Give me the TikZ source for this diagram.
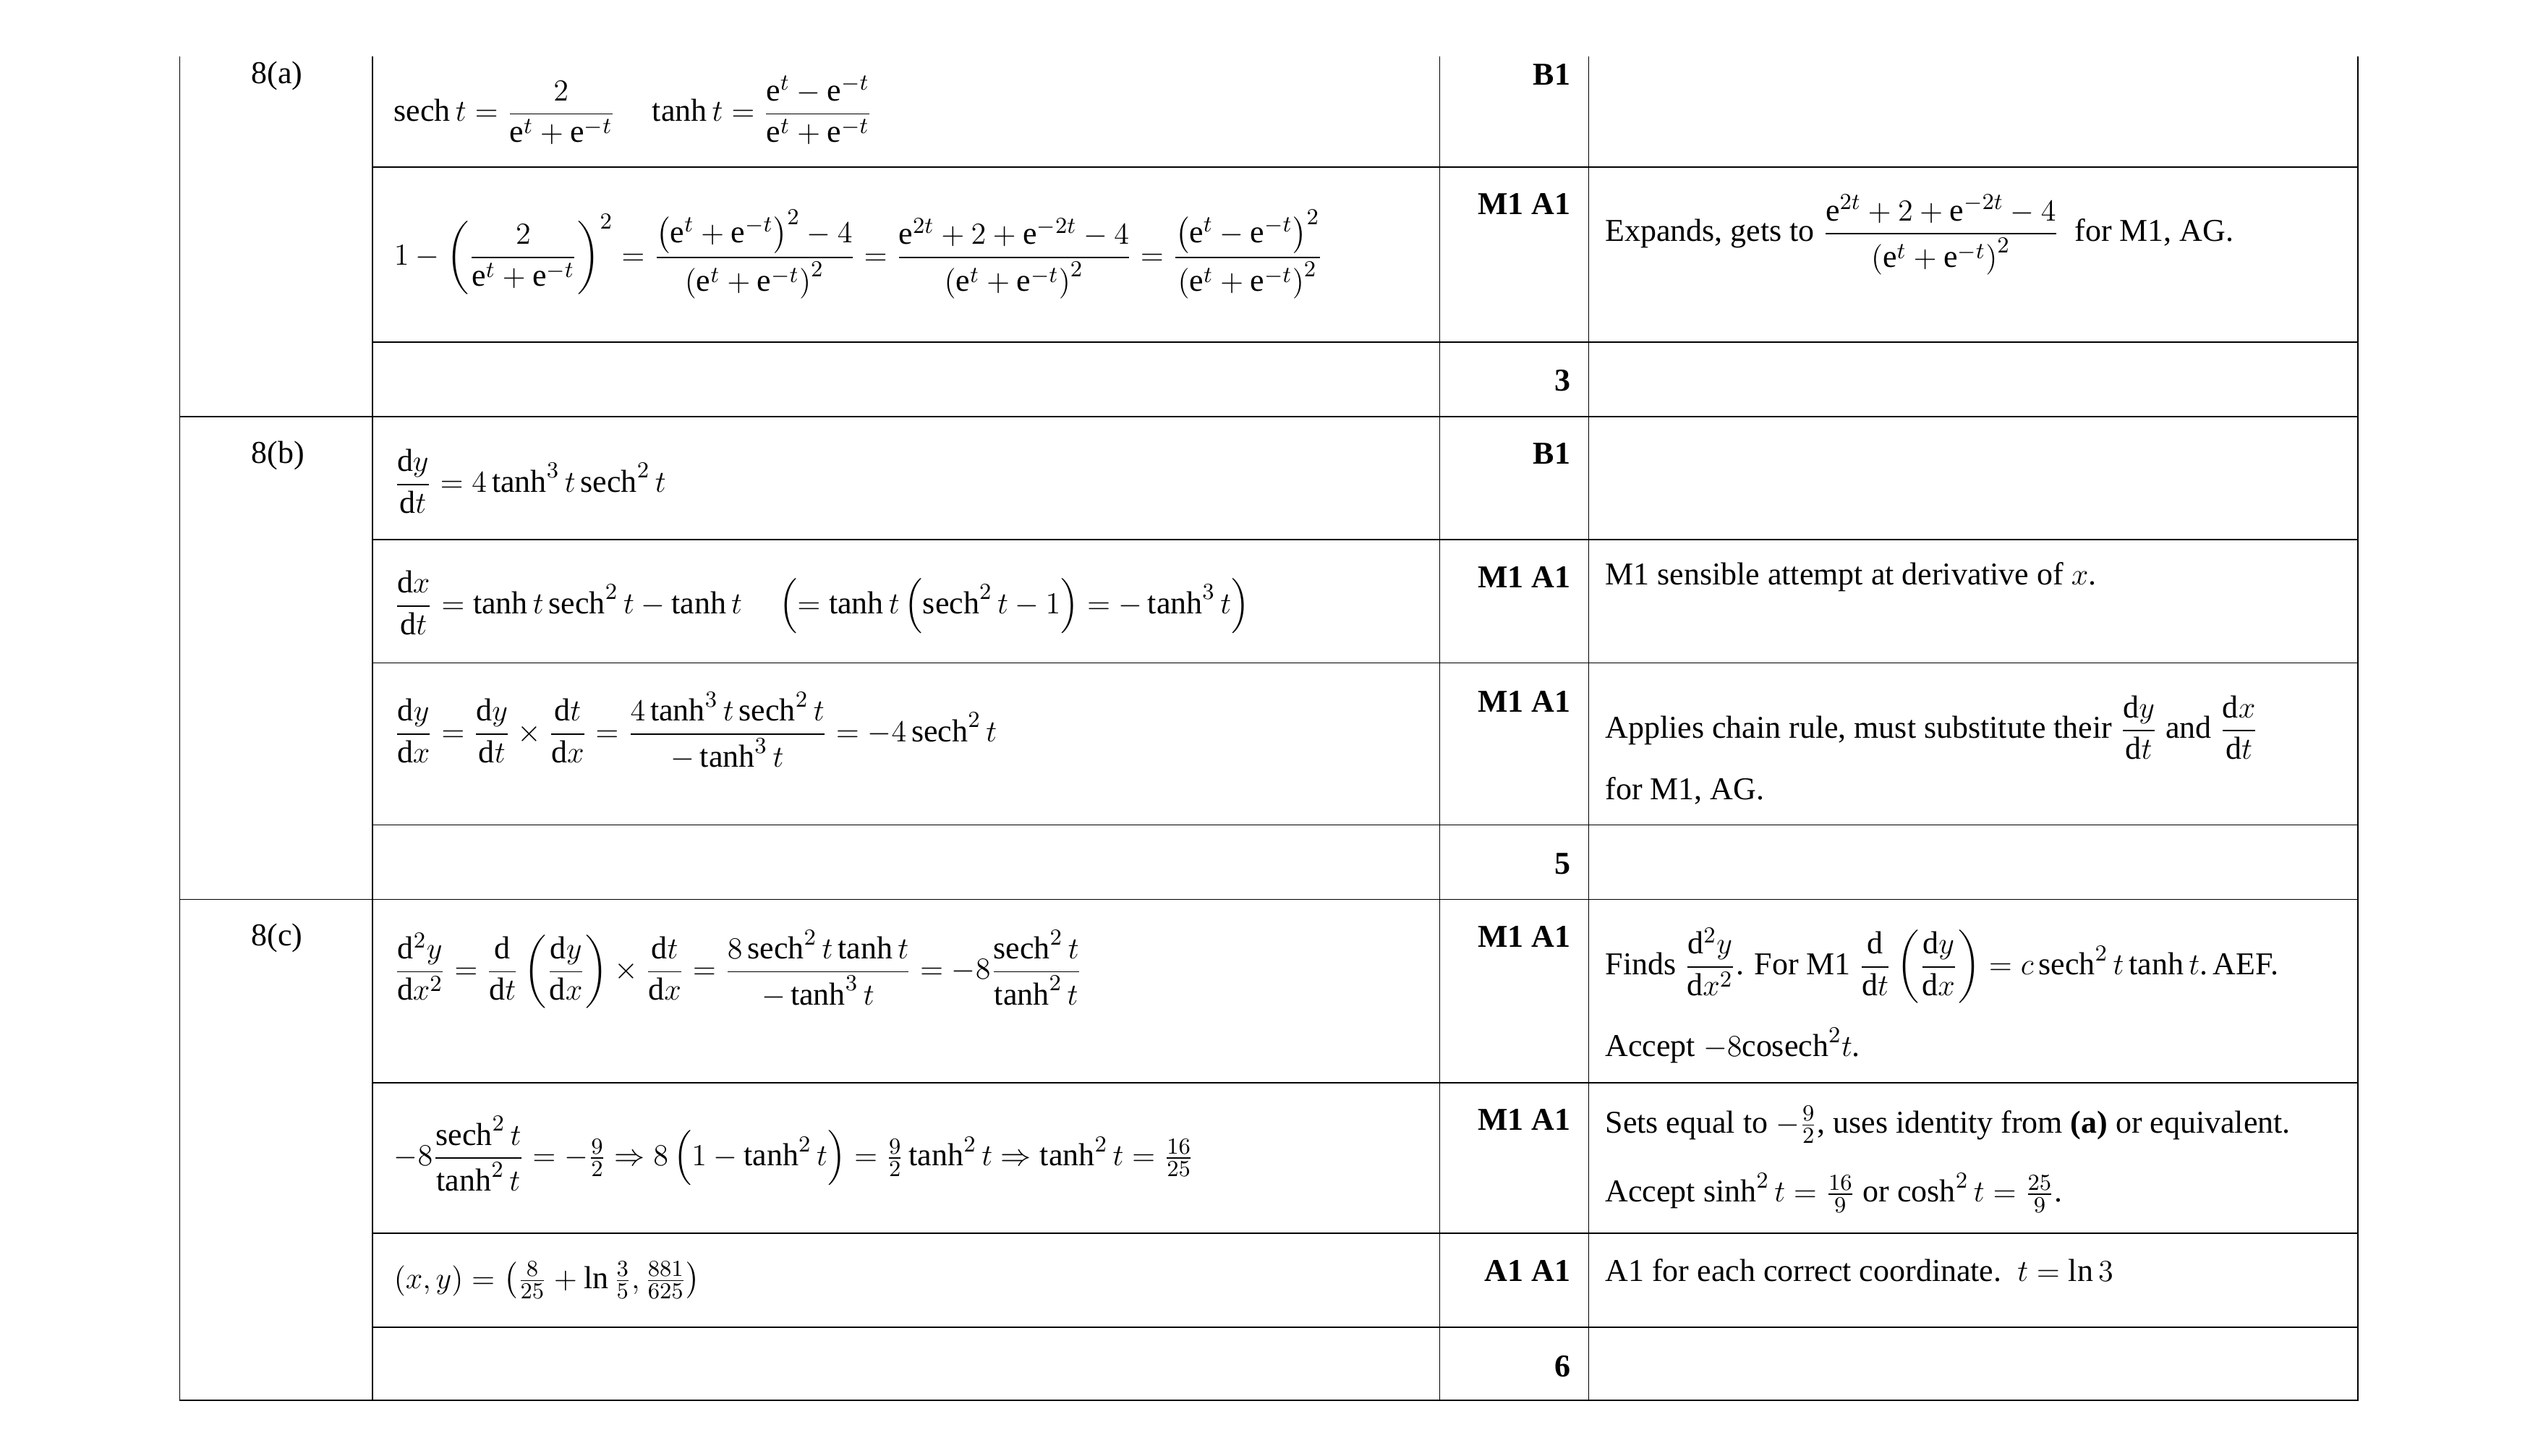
\documentclass[tikz,border=0pt]{standalone}
\usepackage{fontspec}
\setmainfont{Liberation Serif}
\usepackage{amsmath}
\newcommand{\ee}{\mathrm{e}}
\newcommand{\dd}{\mathrm{d}}
\newcommand{\sech}{\operatorname{sech}}
\begin{document}
\begin{tikzpicture}[
    x=0.02239cm, y=-0.02240cm,
    txt/.style={anchor=west, inner sep=0pt, font=\fontsize{12.5}{15}\selectfont},
    mk/.style={anchor=east, inner sep=0pt, font=\fontsize{12.5}{15}\selectfont\bfseries},
    rule/.style={line width=0.5pt}
  ]
    \useasboundingbox (0,0) rectangle (1567.2,898.2);
    % grid
    \draw[rule] (111,35) -- (111,864) -- (1456,864) -- (1456,35);
    \foreach \cx in {230,889,981}
      \draw[rule] (\cx,35) -- (\cx,864);
    \foreach \ry in {103,211,333,409,509,668,761,819}
      \draw[rule] (230,\ry) -- (1456,\ry);
    \foreach \ry in {257,555}
      \draw[rule] (111,\ry) -- (1456,\ry);

    % 8(a)
    \node[txt] (qa) at (155,47) {8(a)};
    \node[txt] (a1) at (243,68) {$\displaystyle \sech t=\frac{2}{\ee^{t}+\ee^{-t}}\quad \tanh t=\frac{\ee^{t}-\ee^{-t}}{\ee^{t}+\ee^{-t}}$};
    \node[mk] (ma1) at (970,46) {B1};
    \node[txt] (a2) at (243,157) {$\displaystyle 1-\left(\frac{2}{\ee^{t}+\ee^{-t}}\right)^{2}=\frac{\left(\ee^{t}+\ee^{-t}\right)^{2}-4}{\left(\ee^{t}+\ee^{-t}\right)^{2}}=\frac{\ee^{2t}+2+\ee^{-2t}-4}{\left(\ee^{t}+\ee^{-t}\right)^{2}}=\frac{\left(\ee^{t}-\ee^{-t}\right)^{2}}{\left(\ee^{t}+\ee^{-t}\right)^{2}}$};
    \node[mk] (ma2) at (970,126) {M1 A1};
    \node[txt] (ca2) at (991,145) {Expands, gets to $\displaystyle\frac{\ee^{2t}+2+\ee^{-2t}-4}{\left(\ee^{t}+\ee^{-t}\right)^{2}}$\ \ for M1, AG.};
    \node[mk] (ta) at (970,235) {3};

    % 8(b)
    \node[txt] (qb) at (155,281) {8(b)};
    \node[txt] (b1) at (243,297) {$\displaystyle \frac{\dd y}{\dd t}=4\tanh^{3}t\sech^{2}t$};
    \node[mk] (mb1) at (970,280) {B1};
    \node[txt] (b2) at (243,372) {$\displaystyle \frac{\dd x}{\dd t}=\tanh t\sech^{2}t-\tanh t\quad\left(=\tanh t\left(\sech^{2}t-1\right)=-\tanh^{3}t\right)$};
    \node[mk] (mb2) at (970,356) {M1 A1};
    \node[txt] (cb2) at (991,356) {M1 sensible attempt at derivative of $x$.};
    \node[txt] (b3) at (243,451) {$\displaystyle \frac{\dd y}{\dd x}=\frac{\dd y}{\dd t}\times\frac{\dd t}{\dd x}=\frac{4\tanh^{3}t\sech^{2}t}{-\tanh^{3}t}=-4\sech^{2}t$};
    \node[mk] (mb3) at (970,433) {M1 A1};
    \node[txt] (cb3) at (991,449) {Applies chain rule, must substitute their $\displaystyle\frac{\dd y}{\dd t}$ and $\displaystyle\frac{\dd x}{\dd t}$};
    \node[txt] (cb3b) at (991,488) {for M1, AG.};
    \node[mk] (tb) at (970,533) {5};

    % 8(c)
    \node[txt] (qc) at (155,579) {8(c)};
    \node[txt] (c1) at (243,598) {$\displaystyle \frac{\dd^{2}y}{\dd x^{2}}=\frac{\dd}{\dd t}\left(\frac{\dd y}{\dd x}\right)\times\frac{\dd t}{\dd x}=\frac{8\sech^{2}t\tanh t}{-\tanh^{3}t}=-8\frac{\sech^{2}t}{\tanh^{2}t}$};
    \node[mk] (mc1) at (970,578) {M1 A1};
    \node[txt] (cc1) at (991,596) {Finds $\displaystyle\frac{\dd^{2}y}{\dd x^{2}}$. For M1 $\displaystyle\frac{\dd}{\dd t}\left(\frac{\dd y}{\dd x}\right)=c\sech^{2}t\tanh t$.\,AEF.};
    \node[txt] (cc1b) at (991,645) {Accept $-8\mathrm{cosech}^{2}t$.};
    \node[txt] (c2) at (243,712) {$\displaystyle -8\frac{\sech^{2}t}{\tanh^{2}t}=-\tfrac{9}{2}\Rightarrow 8\left(1-\tanh^{2}t\right)=\tfrac{9}{2}\tanh^{2}t\Rightarrow\tanh^{2}t=\tfrac{16}{25}$};
    \node[mk] (mc2) at (970,691) {M1 A1};
    \node[txt] (cc2) at (991,694) {Sets equal to $-\tfrac{9}{2}$, uses identity from \textbf{(a)} or equivalent.};
    \node[txt] (cc2b) at (991,736) {Accept $\sinh^{2}t=\tfrac{16}{9}$ or $\cosh^{2}t=\tfrac{25}{9}$.};
    \node[txt] (c3) at (243,790) {$\left(x,y\right)=\left(\tfrac{8}{25}+\ln\tfrac{3}{5},\tfrac{881}{625}\right)$};
    \node[mk] (mc3) at (970,784) {A1 A1};
    \node[txt] (cc3) at (991,784) {A1 for each correct coordinate.\ \ $t=\ln 3$};
    \node[mk] (tc) at (970,843) {6};
  \end{tikzpicture}
\end{document}
